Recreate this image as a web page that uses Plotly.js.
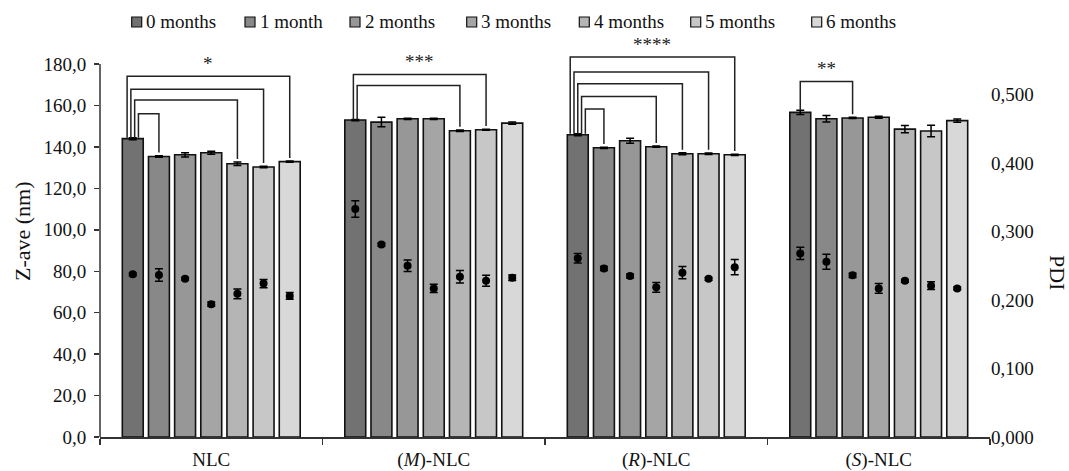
<!DOCTYPE html>
<html>
<head>
<meta charset="utf-8">
<script src="https://cdn.plot.ly/plotly-3.0.1.min.js"></script>
<style>html,body{margin:0;padding:0;background:#fff;}#chart{width:1069px;height:471px;}</style>
</head>
<body>
<div id="chart"></div>
<script>
// ---- data ----
const categories = ['NLC', '(<i>M</i>)-NLC', '(<i>R</i>)-NLC', '(<i>S</i>)-NLC'];
const months = ['0 months', '1 month', '2 months', '3 months', '4 months', '5 months', '6 months'];

// Z-ave (nm), per formulation, months 0..6
const zNLC = [144.0, 135.4, 136.2, 137.2, 131.9, 130.3, 132.9];
const zM   = [153.0, 152.0, 153.6, 153.6, 147.8, 148.3, 151.5];
const zR   = [145.9, 139.6, 143.0, 140.1, 136.7, 136.7, 136.2];
const zS   = [156.7, 153.6, 154.0, 154.3, 148.6, 147.7, 152.7];
const zNLCErr = [0.5, 0.4, 1.0, 0.7, 0.8, 0.4, 0.3];
const zMErr   = [0.3, 2.3, 0.3, 0.3, 0.4, 0.3, 0.5];
const zRErr   = [0.5, 0.3, 1.2, 0.3, 0.5, 0.4, 0.3];
const zSErr   = [1.0, 1.6, 0.3, 0.5, 1.8, 2.8, 0.8];

// PDI, per formulation, months 0..6
const pNLC = [0.2375, 0.2365, 0.231, 0.194, 0.209, 0.224, 0.206];
const pM   = [0.333, 0.281, 0.250, 0.217, 0.234, 0.228, 0.2325];
const pR   = [0.261, 0.246, 0.235, 0.2185, 0.240, 0.231, 0.248];
const pS   = [0.268, 0.256, 0.236, 0.217, 0.228, 0.221, 0.217];
const pNLCErr = [0.002, 0.009, 0.002, 0.003, 0.007, 0.006, 0.005];
const pMErr   = [0.012, 0.002, 0.0085, 0.006, 0.009, 0.008, 0.004];
const pRErr   = [0.007, 0.003, 0.003, 0.007, 0.009, 0.002, 0.011];
const pSErr   = [0.009, 0.011, 0.003, 0.007, 0.002, 0.0055, 0.002];

// significance comparisons vs. 0 months: [group, target month, bracket level (nm)]
const bracketGroup  = [0, 0, 0, 0, 1, 1, 2, 2, 2, 2, 2, 3];
const bracketTarget = [6, 5, 4, 1, 5, 4, 6, 5, 4, 3, 1, 2];
const bracketLevel  = [174.1, 167.8, 162.7, 156.0, 175.0, 169.6, 183.4, 176.2, 170.5, 164.4, 158.3, 171.6];
const stars = ['*', '***', '****', '**'];

const yLeftTicks = [0, 20, 40, 60, 80, 100, 120, 140, 160, 180];
const yRightTicks = [0, 0.1, 0.2, 0.3, 0.4, 0.5];

// ---- styling / layout constants ----
const barColors = ['#727272', '#888888', '#979797', '#a5a5a5', '#b5b5b5', '#c7c7c7', '#d8d8d8'];
const FONT = 'Liberation Serif, Times New Roman, serif';
const FS = 19;
const BARGAP = 0.177;
const M = {l: 100, r: 79, t: 33, b: 34};
const W = 1069, H = 471;
const PW = W - M.l - M.r, PH = H - M.t - M.b;
const px2x = p => (p - M.l) / PW;
const py2y = p => (H - M.b - p) / PH;
const legendPx = [131.7, 245, 350, 466.7, 579.3, 690.7, 811.7];

const zAll = [zNLC, zM, zR, zS];
const zErrAll = [zNLCErr, zMErr, zRErr, zSErr];
const pAll = [pNLC, pM, pR, pS];
const pErrAll = [pNLCErr, pMErr, pRErr, pSErr];
const xs = categories.map((c, i) => i);

const traces = [];
months.forEach((m, i) => {
  traces.push({
    type: 'bar', name: m, x: xs,
    y: zAll.map(a => a[i]),
    error_y: {type: 'data', array: zErrAll.map(a => a[i]), color: '#000', thickness: 1.5, width: 4},
    marker: {color: barColors[i], line: {color: '#111', width: 1.6}},
    offsetgroup: String(i), showlegend: false,
    hoverinfo: 'skip'
  });
});
months.forEach((m, i) => {
  traces.push({
    type: 'scatter', mode: 'markers', name: m + ' PDI', x: xs, yaxis: 'y2',
    y: pAll.map(a => a[i]),
    error_y: {type: 'data', array: pErrAll.map(a => a[i]), color: '#000', thickness: 1.5, width: 4},
    marker: {color: '#000', size: 8, symbol: 'circle'},
    offsetgroup: String(i),
    showlegend: false, hoverinfo: 'skip'
  });
});

// bracket shapes
const nM = months.length;
const barOff = i => (1 - BARGAP) * ((i + 0.5) / nM - 0.5);
const shapes = [];
const annotations = [];
const LEG = 0.017;
categories.forEach((c, g) => {
  const idx = bracketGroup.map((gg, k) => gg === g ? k : -1).filter(k => k >= 0);
  const n = idx.length;
  idx.forEach((k, j) => {
    const t = bracketTarget[k];
    const xL = g + barOff(0) + (j - (n - 1) / 2) * LEG;
    const xR = g + barOff(t);
    const yL = zAll[g][0] + zErrAll[g][0];
    const yR = zAll[g][t] + zErrAll[g][t] + 1.5;
    const lv = bracketLevel[k];
    shapes.push({type: 'path', xref: 'x', yref: 'y', layer: 'above',
      path: `M${xL},${yL} L${xL},${lv} L${xR},${lv} L${xR},${yR}`,
      line: {color: '#222', width: 1.5}});
    if (j === 0) {
      annotations.push({x: (xL + xR) / 2, y: lv, xref: 'x', yref: 'y', text: stars[g],
        showarrow: false, yanchor: 'bottom', xanchor: 'center',
        font: {family: FONT, size: FS, color: '#222'}});
    }
  });
});
// left axis line (only up to 180)
shapes.push({type: 'line', xref: 'paper', yref: 'y', x0: 0, x1: 0, y0: 0, y1: 180,
  line: {color: '#333', width: 1.5}, layer: 'above'});

// custom legend
months.forEach((m, i) => {
  const p = legendPx[i];
  shapes.push({type: 'rect', xref: 'paper', yref: 'paper',
    x0: px2x(p), x1: px2x(p + 10), y0: py2y(27), y1: py2y(17),
    fillcolor: barColors[i], line: {color: '#111', width: 1.2}});
  annotations.push({x: px2x(p + 12.5), y: py2y(22), xref: 'paper', yref: 'paper', text: m,
    showarrow: false, xanchor: 'left', yanchor: 'middle',
    font: {family: FONT, size: FS, color: '#111'}});
});

// axis titles
annotations.push({x: px2x(22), y: py2y(231), xref: 'paper', yref: 'paper', text: 'Z-ave (nm)',
  textangle: -90, showarrow: false, xanchor: 'center', yanchor: 'middle',
  font: {family: FONT, size: 22, color: '#111'}});
annotations.push({x: px2x(1058), y: py2y(272), xref: 'paper', yref: 'paper', text: 'PDI',
  textangle: 90, showarrow: false, xanchor: 'center', yanchor: 'middle',
  font: {family: FONT, size: 22, color: '#111'}});

const layout = {
  width: W, height: H,
  margin: M,
  paper_bgcolor: '#fff', plot_bgcolor: '#fff',
  separators: ',.',
  font: {family: FONT, size: FS, color: '#111'},
  barmode: 'group', bargap: BARGAP, bargroupgap: 0.2,
  scattermode: 'group',
  showlegend: false,
  xaxis: {range: [-0.5, 3.5], tickvals: xs, ticktext: categories, ticks: '',
    showline: true, linecolor: '#333', linewidth: 1.5, showgrid: false, zeroline: false,
    ticklabelstandoff: 5,
    tickfont: {family: FONT, size: FS, color: '#111'},
    minor: {tick0: 0.5, dtick: 1, ticks: 'outside', ticklen: 6, tickcolor: '#333', tickwidth: 1.5, showgrid: false}},
  yaxis: {range: [0, 195], tickvals: yLeftTicks, tickformat: '.1f', ticks: 'outside', ticklen: 5,
    tickcolor: '#333', tickwidth: 1.5, showline: false, showgrid: false, zeroline: false,
    ticklabelstandoff: 4,
    tickfont: {family: FONT, size: FS, color: '#111'}},
  yaxis2: {overlaying: 'y', side: 'right', range: [0, 195 * 0.5445 / 180], tickvals: yRightTicks,
    tickformat: '.3f', ticks: '', showline: false, showgrid: false, zeroline: false,
    tickfont: {family: FONT, size: FS, color: '#111'}},
  shapes: shapes,
  annotations: annotations
};

Plotly.newPlot('chart', traces, layout, {displayModeBar: false, staticPlot: true});
</script>
</body>
</html>
